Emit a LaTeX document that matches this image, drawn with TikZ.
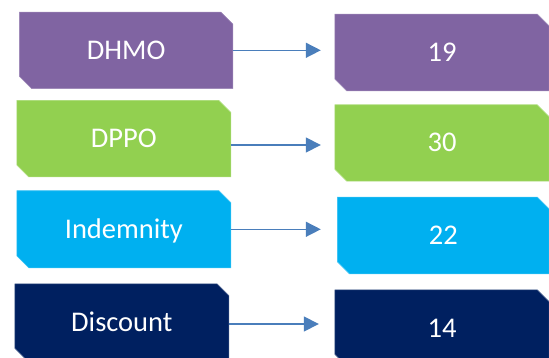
\documentclass[tikz,border=0pt]{standalone}
\usepackage{fontspec}
\setmainfont{Carlito}
\usetikzlibrary{arrows.meta,backgrounds}
\definecolor{cpurple}{HTML}{8064A2}
\definecolor{cgreen}{HTML}{92D050}
\definecolor{cblue}{HTML}{00B0F0}
\definecolor{cnavy}{HTML}{002060}
\definecolor{carrow}{HTML}{4A7EBB}
\newcommand{\snipfill}[2]{%
  \filldraw[fill=#2, draw=#2!75!white, line width=0.6pt]
    ([xshift=-12pt]#1.north east) -- ([yshift=-12pt]#1.north east) --
    (#1.south east) -- ([xshift=12pt]#1.south west) --
    ([yshift=12pt]#1.south west) -- (#1.north west) -- cycle;}
\begin{document}
\begin{tikzpicture}[x=1pt,y=-1pt,
  lbl/.style={inner sep=0pt, text=white, font=\fontsize{28.5}{30}\selectfont,
    text height=18pt, text depth=0pt, minimum height=76pt},
  conn/.style={draw=carrow, line width=1.5pt, -{Triangle[length=15pt,width=15pt]}}]
\useasboundingbox (0,0) rectangle (549,358);
\clip (0,0) rectangle (549,358);
\node[lbl, minimum width=213pt] (l1) at (126.2,50.3) {DHMO};
\node[lbl, minimum width=213.7pt] (l2) at (123.85,138.7) {DPPO};
\node[lbl, minimum width=213.7pt, minimum height=76.7pt] (l3) at (123.85,229.3) {Indemnity};
\node[lbl, minimum width=213.7pt] (l4) at (121.85,322) {Discount};
\node[lbl, minimum width=214pt, minimum height=76.4pt] (r1) at (442,52.5) {19};
\node[lbl, minimum width=214pt] (r2) at (442,143) {30};
\node[lbl, minimum width=211.3pt, minimum height=76.4pt] (r3) at (443.35,235.5) {22};
\node[lbl, minimum width=214pt] (r4) at (442,328) {14};
\begin{scope}[on background layer]
\snipfill{l1}{cpurple}
\snipfill{l2}{cgreen}
\snipfill{l3}{cblue}
\snipfill{l4}{cnavy}
\snipfill{r1}{cpurple}
\snipfill{r2}{cgreen}
\snipfill{r3}{cblue}
\snipfill{r4}{cnavy}
\end{scope}
\coordinate (s1) at (l1.east);
\coordinate (s2) at ([yshift=-6.3pt]l2.east);
\coordinate (s3) at (l3.east);
\coordinate (s4) at ([yshift=-2pt]l4.east);
\draw[conn, shorten >=14pt] (s1) -- (s1 -| r1.west);
\draw[conn, shorten >=14pt] (s2) -- (s2 -| r2.west);
\draw[conn, shorten >=16.7pt] (s3) -- (s3 -| r3.west);
\draw[conn, shorten >=16pt] (s4) -- (s4 -| r4.west);
\end{tikzpicture}
\end{document}
